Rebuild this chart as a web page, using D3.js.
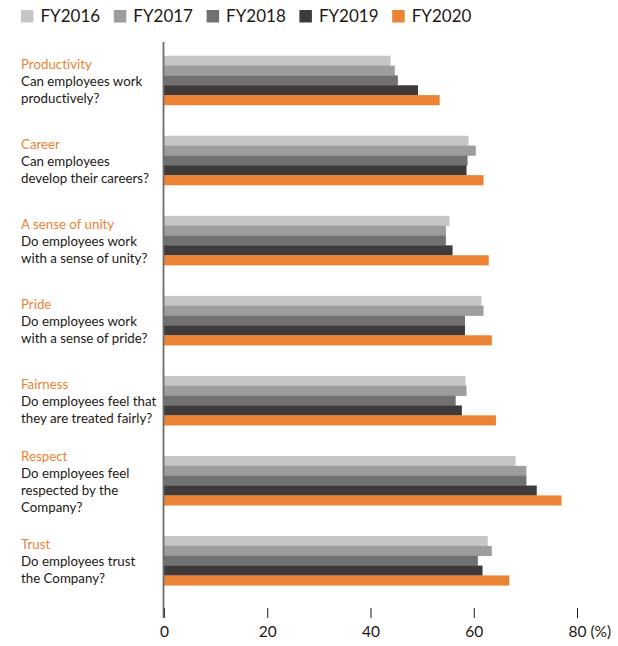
<!DOCTYPE html>
<html>
<head>
<meta charset="utf-8">
<script src="https://cdn.jsdelivr.net/npm/d3@7"></script>
<style>
  body { margin: 0; background: #fff; }
  svg { display: block; font-family: Lato, "Open Sans", sans-serif; font-variant-ligatures: none; font-feature-settings: "liga" 0, "dlig" 0; }
</style>
</head>
<body>
<svg id="chart" width="618" height="646"></svg>
<script>
const categories = ["Productivity", "Career", "A sense of unity", "Pride", "Fairness", "Respect", "Trust"];
const questions = [
  ["Can employees work", "productively?"],
  ["Can employees", "develop their careers?"],
  ["Do employees work", "with a sense of unity?"],
  ["Do employees work", "with a sense of pride?"],
  ["Do employees feel that", "they are treated fairly?"],
  ["Do employees feel", "respected by the", "Company?"],
  ["Do employees trust", "the Company?"]
];
const seriesNames = ["FY2016", "FY2017", "FY2018", "FY2019", "FY2020"];
const FY2016 = [43.9, 59.0, 55.3, 61.5, 58.4, 68.1, 62.7];
const FY2017 = [44.7, 60.4, 54.6, 61.9, 58.6, 70.2, 63.5];
const FY2018 = [45.3, 58.8, 54.6, 58.3, 56.5, 70.2, 60.8];
const FY2019 = [49.2, 58.6, 55.9, 58.3, 57.7, 72.2, 61.7];
const FY2020 = [53.4, 61.9, 62.9, 63.5, 64.3, 77.0, 66.9];
const seriesValues = [FY2016, FY2017, FY2018, FY2019, FY2020];
const colors = ["#c6c6c6", "#9d9d9d", "#717171", "#3e3a39", "#ea8333"];
const tickValues = [0, 20, 40, 60, 80];

const svg = d3.select("#chart");
const x = d3.scaleLinear().domain([0, 80]).range([164, 577]);
const y = d3.scaleBand().domain(categories).range([40.5, 600.5]).paddingInner(0.385).paddingOuter(0.19);
const ySub = d3.scaleBand().domain(seriesNames).range([0, y.bandwidth()]);

// legend
const leg = svg.append("g");
seriesNames.forEach((s, i) => {
  const g = leg.append("g").attr("transform", `translate(${21 + i * 92.8},10)`);
  g.append("rect").attr("width", 12.5).attr("height", 12.5).attr("fill", colors[i]);
  g.append("text").attr("x", 19.5).attr("y", 12.4).attr("font-size", 17).attr("fill", "#231815").text(s);
});

// bars
const groups = svg.append("g").selectAll("g").data(categories).join("g")
  .attr("transform", d => `translate(0,${y(d)})`);
groups.each(function(c, ci) {
  d3.select(this).selectAll("rect").data(seriesNames).join("rect")
    .attr("x", x(0))
    .attr("y", s => ySub(s))
    .attr("height", ySub.bandwidth() + 0.3)
    .attr("width", (s, si) => x(seriesValues[si][ci]) - x(0))
    .attr("fill", (s, si) => colors[si]);
});

// category labels
categories.forEach((c, ci) => {
  const lines = [c].concat(questions[ci]);
  const center = y(c) + y.bandwidth() / 2;
  const lh = 17;
  const first = center + 5.5 - (lines.length - 1) * lh / 2;
  const t = svg.append("text").attr("x", 21).attr("font-size", 13.3);
  lines.forEach((l, li) => {
    t.append("tspan").attr("x", 21).attr("y", first + li * lh)
      .attr("fill", li === 0 ? "#ea8333" : "#231815").text(l);
  });
});

// axis
const axis = d3.axisBottom(x).tickValues(tickValues).tickSize(10).tickPadding(8)
  .tickFormat((d) => d === 80 ? "80 (%)" : d);
const ag = svg.append("g").attr("transform", "translate(0,608)").call(axis);
ag.select(".domain").remove();
ag.selectAll(".tick line").attr("stroke", "#231815").attr("stroke-width", 1);
ag.selectAll(".tick text").attr("font-size", 15.5).attr("fill", "#231815").attr("font-family", "Lato, sans-serif");
ag.selectAll(".tick").filter(d => d === 80).select("text").attr("text-anchor", "start").attr("dx", -9);
// vertical baseline
svg.append("line").attr("x1", x(0) - 0.5).attr("x2", x(0) - 0.5).attr("y1", 42).attr("y2", 618)
  .attr("stroke", "#6d6d6d").attr("stroke-width", 1.8);
</script>
</body>
</html>
